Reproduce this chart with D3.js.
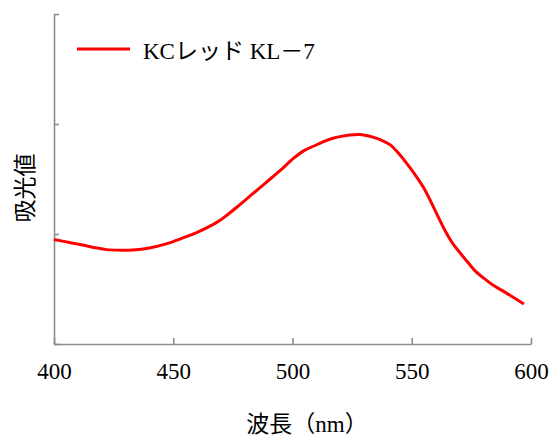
<!DOCTYPE html>
<html>
<head>
<meta charset="utf-8">
<script src="https://cdn.jsdelivr.net/npm/d3@7"></script>
<style>
  body { margin: 0; background: #fff; }
  text { font-family: "Liberation Serif", "Noto Sans CJK JP", serif; fill: #000; }
</style>
</head>
<body>
<svg width="552" height="440"></svg>
<script>
// spectrum (absorbance, arbitrary units)
var wavelengths = [400, 406, 412, 418, 422, 428, 433, 440, 447, 454, 460, 464, 469, 473, 477, 483, 489, 495, 500, 505, 509, 513, 517, 521, 524, 528, 531, 534, 537, 541, 545, 549, 552, 555, 558, 561, 564, 567, 570, 574, 577, 581, 584, 588, 591, 594, 597];
var absorbance  = [0.95, 0.925, 0.90, 0.872, 0.858, 0.853, 0.855, 0.873, 0.91, 0.964, 1.015, 1.055, 1.115, 1.18, 1.25, 1.36, 1.47, 1.58, 1.68, 1.76, 1.80, 1.84, 1.87, 1.89, 1.90, 1.905, 1.895, 1.878, 1.855, 1.81, 1.72, 1.61, 1.52, 1.42, 1.295, 1.16, 1.03, 0.92, 0.835, 0.73, 0.655, 0.585, 0.536, 0.485, 0.445, 0.405, 0.364];

var xTicks = [400, 450, 500, 550, 600];
var yTicks = [0, 1, 2, 3];
var seriesName = "KCレッド KL－7";
var xTitle = "波長（nm）";
var yTitle = "吸光値";

var svg = d3.select("svg");

var x = d3.scaleLinear().domain([400, 600]).range([54, 531]);
var y = d3.scaleLinear().domain([0, 3]).range([344, 14]);

// axes (ticks point inward, no y labels)
var xAxis = svg.append("g")
    .attr("transform", "translate(0,344)")
    .call(d3.axisBottom(x).tickValues(xTicks).tickSize(-6).tickSizeOuter(0));
xAxis.selectAll("text")
    .style("font-size", "23px")
    .attr("dy", "0.71em")
    .attr("y", 19);

svg.append("g")
    .attr("transform", "translate(54,0)")
    .call(d3.axisLeft(y).tickValues(yTicks).tickSize(-5).tickSizeOuter(0).tickFormat(""));

svg.selectAll(".domain, .tick line")
    .attr("stroke", "#8c8c8c")
    .attr("stroke-width", 1.6);

// curve
var line = d3.line()
    .x(function(d, i) { return x(wavelengths[i]); })
    .y(function(d) { return y(d); })
    .curve(d3.curveCatmullRom);

svg.append("path")
    .datum(absorbance)
    .attr("fill", "none")
    .attr("stroke", "#ff0000")
    .attr("stroke-width", 3)
    .attr("d", line);

// legend
svg.append("line")
    .attr("x1", 77).attr("x2", 130)
    .attr("y1", 49).attr("y2", 49)
    .attr("stroke", "#ff0000")
    .attr("stroke-width", 3);
svg.append("text")
    .attr("x", 143)
    .attr("y", 59)
    .style("font-size", "23px")
    .text(seriesName);

// axis titles
svg.append("text")
    .attr("x", 307)
    .attr("y", 432)
    .attr("text-anchor", "middle")
    .style("font-size", "23px")
    .text(xTitle);

svg.append("text")
    .attr("transform", "translate(33,188) rotate(-90)")
    .attr("text-anchor", "middle")
    .style("font-size", "23px")
    .text(yTitle);
</script>
</body>
</html>
